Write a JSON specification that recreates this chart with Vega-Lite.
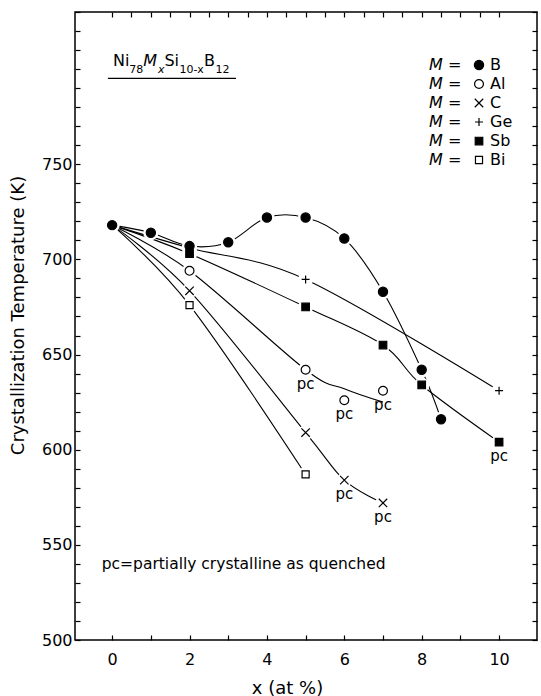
{
  "$schema": "https://vega.github.io/schema/vega-lite/v6.json",
  "width": 462,
  "height": 628,
  "autosize": {"type": "none"},
  "padding": {"left": 75, "top": 12, "right": 4, "bottom": 56},
  "background": "white",
  "config": {
    "font": "DejaVu Sans",
    "view": {"stroke": "black", "strokeWidth": 1.5},
    "axis": {
      "domain": false, "grid": false, "tickColor": "black", "tickWidth": 1.2, "tickSize": -5,
      "labelColor": "black", "labelFontSize": 16, "labelFont": "DejaVu Sans",
      "titleColor": "black", "titleFontWeight": "normal", "titleFontSize": 18, "titleFont": "DejaVu Sans",
      "labelFlush": false, "labelOverlap": false
    },
    "legend": {
      "labelFontSize": 16, "labelColor": "black", "labelFont": "DejaVu Sans",
      "rowPadding": 3, "padding": 0, "symbolStrokeColor": "black", "symbolStrokeWidth": 1.2
    }
  },
  "datasets": {
    "points": [
      {"series": "Ge", "x": 2, "T": 706},
      {"series": "Ge", "x": 5, "T": 689.5},
      {"series": "Ge", "x": 10, "T": 631},
      {"series": "C", "x": 2, "T": 683.5},
      {"series": "C", "x": 5, "T": 609},
      {"series": "C", "x": 6, "T": 584, "pc": true},
      {"series": "C", "x": 7, "T": 572, "pc": true},
      {"series": "Bi", "x": 2, "T": 676},
      {"series": "Bi", "x": 5, "T": 587},
      {"series": "Al", "x": 2, "T": 694},
      {"series": "Al", "x": 5, "T": 642, "pc": true},
      {"series": "Al", "x": 6, "T": 626, "pc": true},
      {"series": "Al", "x": 7, "T": 631, "pc": true},
      {"series": "Sb", "x": 2, "T": 703},
      {"series": "Sb", "x": 5, "T": 675},
      {"series": "Sb", "x": 7, "T": 655},
      {"series": "Sb", "x": 8, "T": 634},
      {"series": "Sb", "x": 10, "T": 604, "pc": true},
      {"series": "B", "x": 0, "T": 718},
      {"series": "B", "x": 1, "T": 714},
      {"series": "B", "x": 2, "T": 707},
      {"series": "B", "x": 3, "T": 709},
      {"series": "B", "x": 4, "T": 722},
      {"series": "B", "x": 5, "T": 722},
      {"series": "B", "x": 6, "T": 711},
      {"series": "B", "x": 7, "T": 683},
      {"series": "B", "x": 8, "T": 642},
      {"series": "B", "x": 8.5, "T": 616}
    ],
    "curves": [
      {"M": "B", "x": 0, "T": 718}, {"M": "B", "x": 1, "T": 714}, {"M": "B", "x": 2, "T": 707},
      {"M": "B", "x": 3, "T": 709}, {"M": "B", "x": 4, "T": 722}, {"M": "B", "x": 5, "T": 722},
      {"M": "B", "x": 6, "T": 711}, {"M": "B", "x": 7, "T": 683}, {"M": "B", "x": 8, "T": 642},
      {"M": "B", "x": 8.5, "T": 616},
      {"M": "Al", "x": 0, "T": 718}, {"M": "Al", "x": 2, "T": 694}, {"M": "Al", "x": 5, "T": 642},
      {"M": "Al", "x": 6, "T": 632}, {"M": "Al", "x": 7, "T": 625},
      {"M": "C", "x": 0, "T": 718}, {"M": "C", "x": 2, "T": 683.5}, {"M": "C", "x": 5, "T": 609},
      {"M": "C", "x": 6, "T": 584}, {"M": "C", "x": 7, "T": 572},
      {"M": "Ge", "x": 0, "T": 718}, {"M": "Ge", "x": 2, "T": 706}, {"M": "Ge", "x": 5, "T": 689.5},
      {"M": "Ge", "x": 10, "T": 631},
      {"M": "Sb", "x": 0, "T": 718}, {"M": "Sb", "x": 2, "T": 703}, {"M": "Sb", "x": 5, "T": 675},
      {"M": "Sb", "x": 7, "T": 655}, {"M": "Sb", "x": 8, "T": 634}, {"M": "Sb", "x": 10, "T": 604},
      {"M": "Bi", "x": 0, "T": 718}, {"M": "Bi", "x": 2, "T": 676}, {"M": "Bi", "x": 5, "T": 587}
    ]
  },
  "layer": [
    {
      "data": {"name": "curves"},
      "mark": {"type": "line", "interpolate": "cardinal", "color": "black", "strokeWidth": 1.1},
      "encoding": {
        "x": {"field": "x", "type": "quantitative",
          "scale": {"domain": [-0.96, 10.98], "nice": false, "zero": false},
          "axis": {"orient": "bottom", "values": [0,0.5,1,1.5,2,2.5,3,3.5,4,4.5,5,5.5,6,6.5,7,7.5,8,8.5,9,9.5,10],
            "format": "d",
            "labelExpr": "datum.value % 2 === 0 ? datum.label : ''", "labelPadding": 16,
            "title": "x (at %)", "titleX": 212, "titleY": 48, "titleBaseline": "middle"}},
        "y": {"field": "T", "type": "quantitative",
          "scale": {"domain": [500, 830], "nice": false, "zero": false},
          "axis": {"orient": "left", "values": [500,510,520,530,540,550,560,570,580,590,600,610,620,630,640,650,660,670,680,690,700,710,720,730,740,750,760,770,780,790,800,810,820,830],
            "labelExpr": "datum.value % 50 === 0 && datum.value <= 750 ? datum.label : ''", "labelPadding": 8,
            "title": "Crystallization Temperature (K)", "titleX": -57, "titleY": 303, "titleBaseline": "middle"}},
        "detail": {"field": "M", "type": "nominal"}
      }
    },
    {
      "data": {"name": "points"},
      "mark": {"type": "circle", "color": "white", "size": 230, "opacity": 1},
      "encoding": {
        "x": {"field": "x", "type": "quantitative",
          "scale": {"domain": [-0.96, 10.98], "nice": false, "zero": false},
          "axis": {"orient": "top", "labels": false, "title": null, "values": [0,0.5,1,1.5,2,2.5,3,3.5,4,4.5,5,5.5,6,6.5,7,7.5,8,8.5,9,9.5,10]}},
        "y": {"field": "T", "type": "quantitative",
          "scale": {"domain": [500, 830], "nice": false, "zero": false},
          "axis": {"orient": "right", "labels": false, "title": null, "values": [500,510,520,530,540,550,560,570,580,590,600,610,620,630,640,650,660,670,680,690,700,710,720,730,740,750,760,770,780,790,800,810,820,830]}}
      }
    },
    {
      "data": {"name": "points"},
      "mark": {"type": "point", "strokeWidth": 1.2, "opacity": 1},
      "encoding": {
        "x": {"field": "x", "type": "quantitative", "axis": null},
        "y": {"field": "T", "type": "quantitative", "axis": null},
        "shape": {"field": "series", "type": "nominal",
          "scale": {"domain": ["B", "Al", "C", "Ge", "Sb", "Bi"], "range": ["circle", "circle", "M-1,-1L1,1M-1,1L1,-1", "M-1,0L1,0M0,-1L0,1", "square", "square"]},
          "legend": {"title": null, "orient": "none", "legendX": 396, "legendY": 45, "labelOffset": 3}},
        "fill": {"field": "series", "type": "nominal",
          "scale": {"domain": ["B", "Al", "C", "Ge", "Sb", "Bi"], "range": ["black", "white", "white", "white", "black", "white"]},
          "legend": {"title": null, "orient": "none", "legendX": 396, "legendY": 45, "labelOffset": 3}},
        "stroke": {"field": "series", "type": "nominal",
          "scale": {"domain": ["B", "Al", "C", "Ge", "Sb", "Bi"], "range": ["black", "black", "black", "black", "black", "black"]},
          "legend": {"title": null, "orient": "none", "legendX": 396, "legendY": 45, "labelOffset": 3}},
        "size": {"field": "series", "type": "nominal",
          "scale": {"domain": ["B", "Al", "C", "Ge", "Sb", "Bi"], "range": [85, 50, 36, 49, 100, 75]},
          "legend": {"title": null, "orient": "none", "legendX": 396, "legendY": 45, "labelOffset": 3}}
      }
    },
    {
      "data": {"name": "points"},
      "transform": [{"filter": "datum.pc === true"}],
      "mark": {"type": "text", "text": "pc", "dy": 14, "fontSize": 15, "color": "black"},
      "encoding": {
        "x": {"field": "x", "type": "quantitative", "axis": null},
        "y": {"field": "T", "type": "quantitative", "axis": null}
      }
    },
    {
      "data": {"name": "curves"},
      "mark": {"type": "point", "opacity": 0},
      "encoding": {
        "x": {"field": "x", "type": "quantitative", "axis": null},
        "y": {"field": "T", "type": "quantitative", "axis": null},
        "color": {"field": "M", "type": "nominal",
          "scale": {"domain": ["Bi", "Sb", "Ge", "C", "Al", "B"], "range": ["black", "black", "black", "black", "black", "black"]},
          "legend": {"title": null, "orient": "none", "legendX": 338, "legendY": 45, "labelExpr": "'M ='",
            "symbolSize": 0, "symbolOpacity": 0, "symbolStrokeWidth": 0, "labelOffset": 0, "labelFontStyle": "italic"}}
      }
    },
    {
      "data": {"values": [{}]},
      "mark": {"type": "text", "text": "pc=partially crystalline as quenched", "align": "left", "baseline": "middle", "fontSize": 15.5, "color": "black"},
      "encoding": {
        "x": {"datum": -0.27, "type": "quantitative", "axis": null},
        "y": {"datum": 540, "type": "quantitative", "axis": null}
      }
    },
    {
      "data": {"values": [{}]},
      "mark": {"type": "text", "text": "Ni", "align": "left", "baseline": "alphabetic", "fontSize": 16, "color": "black"},
      "encoding": {"x": {"datum": 0.02, "type": "quantitative", "axis": null}, "y": {"datum": 801.4, "type": "quantitative", "axis": null}}
    },
    {
      "data": {"values": [{}]},
      "mark": {"type": "text", "text": "78", "align": "left", "baseline": "alphabetic", "fontSize": 11, "color": "black"},
      "encoding": {"x": {"datum": 0.445, "type": "quantitative", "axis": null}, "y": {"datum": 797.9, "type": "quantitative", "axis": null}}
    },
    {
      "data": {"values": [{}]},
      "mark": {"type": "text", "text": "M", "align": "left", "baseline": "alphabetic", "fontSize": 16, "fontStyle": "italic", "color": "black"},
      "encoding": {"x": {"datum": 0.807, "type": "quantitative", "axis": null}, "y": {"datum": 801.4, "type": "quantitative", "axis": null}}
    },
    {
      "data": {"values": [{}]},
      "mark": {"type": "text", "text": "x", "align": "left", "baseline": "alphabetic", "fontSize": 11, "fontStyle": "italic", "color": "black"},
      "encoding": {"x": {"datum": 1.182, "type": "quantitative", "axis": null}, "y": {"datum": 797.9, "type": "quantitative", "axis": null}}
    },
    {
      "data": {"values": [{}]},
      "mark": {"type": "text", "text": "Si", "align": "left", "baseline": "alphabetic", "fontSize": 16, "color": "black"},
      "encoding": {"x": {"datum": 1.35, "type": "quantitative", "axis": null}, "y": {"datum": 801.4, "type": "quantitative", "axis": null}}
    },
    {
      "data": {"values": [{}]},
      "mark": {"type": "text", "text": "10-x", "align": "left", "baseline": "alphabetic", "fontSize": 11, "color": "black"},
      "encoding": {"x": {"datum": 1.738, "type": "quantitative", "axis": null}, "y": {"datum": 797.9, "type": "quantitative", "axis": null}}
    },
    {
      "data": {"values": [{}]},
      "mark": {"type": "text", "text": "B", "align": "left", "baseline": "alphabetic", "fontSize": 16, "color": "black"},
      "encoding": {"x": {"datum": 2.371, "type": "quantitative", "axis": null}, "y": {"datum": 801.4, "type": "quantitative", "axis": null}}
    },
    {
      "data": {"values": [{}]},
      "mark": {"type": "text", "text": "12", "align": "left", "baseline": "alphabetic", "fontSize": 11, "color": "black"},
      "encoding": {"x": {"datum": 2.669, "type": "quantitative", "axis": null}, "y": {"datum": 797.9, "type": "quantitative", "axis": null}}
    },
    {
      "data": {"values": [{}]},
      "mark": {"type": "rule", "color": "black", "strokeWidth": 1.1},
      "encoding": {
        "x": {"datum": -0.11, "type": "quantitative", "axis": null},
        "x2": {"datum": 3.2},
        "y": {"datum": 795.1, "type": "quantitative", "axis": null}
      }
    }
  ],
  "resolve": {"axis": {"x": "independent", "y": "independent"}}
}
